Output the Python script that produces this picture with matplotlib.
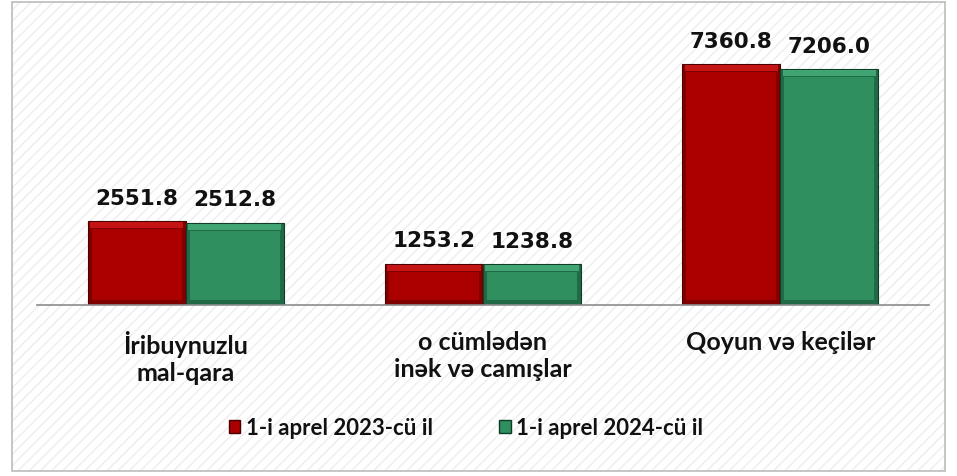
import matplotlib
matplotlib.use("Agg")
import matplotlib.pyplot as plt
import matplotlib.patches as mpatches
import numpy as np

# data
categories = ["İribuynuzlu\nmal-qara", "o cümlədən\ninək və camışlar", "Qoyun və keçilər"]
series_names = ["1-i aprel 2023-cü il", "1-i aprel 2024-cü il"]
values_2023 = [2551.8, 1253.2, 7360.8]
values_2024 = [2512.8, 1238.8, 7206.0]

# цвета: основной, край, боковые фаски, верхняя фаска
red = ("#ab0000", "#4a0000", "#800000", "#c41414")
green = ("#2f8f5f", "#0f3d26", "#226a47", "#40a572")

lbl_font = ["Lato", "DejaVu Sans"]

fig = plt.figure(figsize=(9.57, 4.77), dpi=100)
fig.patch.set_facecolor("white")

# фон с диагональной штриховкой и рамка
bg = mpatches.Rectangle((0.0125, 0.0105), 0.975, 0.983, transform=fig.transFigure,
                        facecolor="white", edgecolor="#ededed", hatch="///",
                        linewidth=0, zorder=-2)
fig.patches.append(bg)
frame = mpatches.Rectangle((0.0125, 0.0105), 0.975, 0.983, transform=fig.transFigure,
                           facecolor="none", edgecolor="#bcbcbc", linewidth=1.2, zorder=-1)
fig.patches.append(frame)

ax = fig.add_axes([0.0387, 0.3585, 0.932, 0.549])
ax.set_facecolor("none")

x = np.arange(len(categories))
w = 0.33
px = 1 / 0.03274  # примерно одна точка по вертикали в единицах данных


def bevel_bars(xs, vals, cols):
    base, edge, side, top = cols
    vals = np.array(vals)
    ax.bar(xs, vals, w, color=side, edgecolor=edge, linewidth=0.8, zorder=2)
    ax.bar(xs, vals - 13 * px, w * 0.92, bottom=5 * px, color=base, linewidth=0, zorder=3)
    ax.bar(xs, np.full(len(vals), 6 * px), w * 0.95, bottom=vals - 7 * px, color=top,
           linewidth=0, zorder=3)


bevel_bars(x - w / 2, values_2023, red)
bevel_bars(x + w / 2, values_2024, green)

for xs, vals in [(x - w / 2, values_2023), (x + w / 2, values_2024)]:
    for xi, v in zip(xs, vals):
        ax.text(xi, v + 13.5 * px, f"{v:.1f}", ha="center", va="bottom",
                fontsize=15.5, fontweight="bold", family="DejaVu Sans", color="#111111")

ax.set_xlim(-0.5, 2.5)
ax.set_ylim(0, 8000)
ax.set_yticks([])
ax.set_xticks(x)
ax.set_xticklabels(categories, fontsize=18, fontweight="bold", family=lbl_font,
                   linespacing=1.2, color="#111111")
ax.tick_params(axis="x", length=0, pad=18)
for s in ["top", "right", "left"]:
    ax.spines[s].set_visible(False)
ax.spines["bottom"].set_color("#8c8c8c")
ax.spines["bottom"].set_linewidth(1.2)

handles = [mpatches.Patch(facecolor=red[0], edgecolor=red[1], label=series_names[0]),
           mpatches.Patch(facecolor=green[0], edgecolor=green[1], label=series_names[1])]
leg = fig.legend(handles=handles, loc="center", bbox_to_anchor=(0.487, 0.101), ncol=2,
                 frameon=False, handlelength=0.5, handleheight=0.5, handletextpad=0.25,
                 columnspacing=3.0, prop={"family": lbl_font, "weight": "bold", "size": 16})
for t in leg.get_texts():
    t.set_color("#111111")

fig.savefig("out.png", dpi=100)
